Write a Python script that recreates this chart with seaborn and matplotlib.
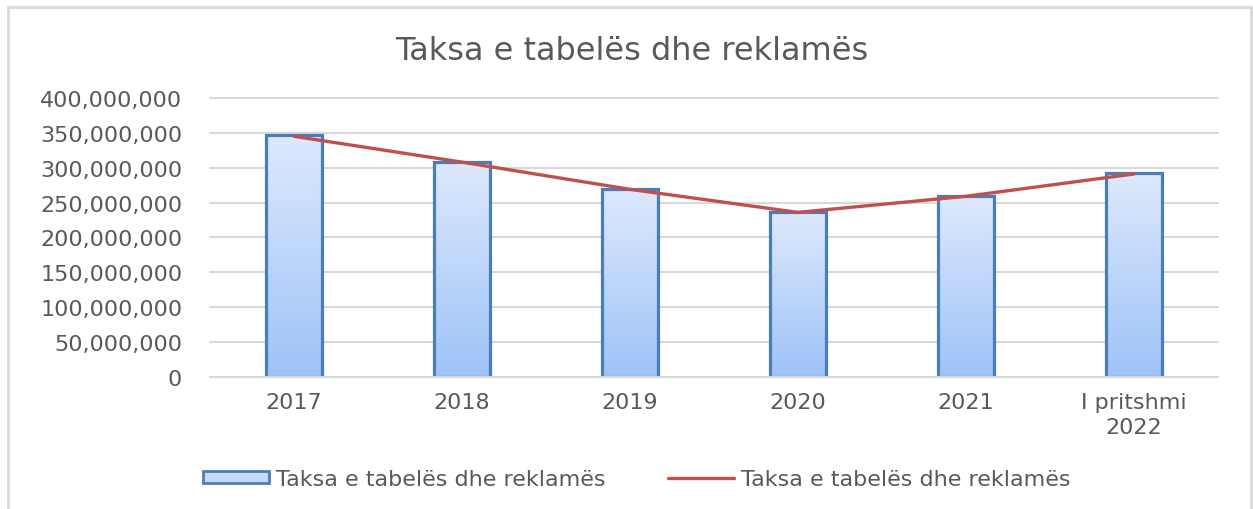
import numpy as np
import seaborn as sns
import matplotlib.pyplot as plt
from matplotlib.patches import Patch
from matplotlib.lines import Line2D
from matplotlib.ticker import FuncFormatter
from matplotlib.colors import LinearSegmentedColormap

# data
years = ["2017", "2018", "2019", "2020", "2021", "I pritshmi\n2022"]
bar_values = [347000000, 308500000, 269000000, 236500000, 260000000, 292000000]
line_values = [345000000, 308000000, 269000000, 236000000, 259000000, 291000000]
series_name = "Taksa e tabelës dhe reklamës"

sns.set_theme(style="white")
plt.rcParams['font.family'] = ['DejaVu Sans']
text_color = "#595959"

fig = plt.figure(figsize=(12.53, 5.10), dpi=100)
ax = fig.add_axes([0.1676, 0.2588, 0.8044, 0.5472])

sns.barplot(x=years, y=bar_values, ax=ax, width=0.33, color="#c5dafa",
            edgecolor="#4a7ebb", linewidth=2.3, zorder=2)

# gradient fill inside the bars, light at the top
grad = LinearSegmentedColormap.from_list("g", ["#9ec3f8", "#dde9fc"])
for p in ax.patches:
    x0, y0 = p.get_x(), p.get_y()
    w, h = p.get_width(), p.get_height()
    im = ax.imshow(np.linspace(0, 1, 256).reshape(-1, 1), cmap=grad,
                   origin="lower", aspect="auto",
                   extent=[x0, x0 + w, y0, y0 + h], zorder=2.1)
    im.set_clip_path(p)
    p.set_facecolor("none")
    p.set_zorder(2.2)

sns.lineplot(x=list(range(len(years))), y=line_values, ax=ax, color="#c0504d",
             linewidth=2.4, zorder=3, sort=False)

ax.set_xlim(-0.5, 5.5)
ax.set_ylim(0, 400000000)
ax.set_yticks(np.arange(0, 400000001, 50000000))
ax.yaxis.set_major_formatter(FuncFormatter(lambda v, _: f"{int(v):,}"))
ax.set_xticks(range(len(years)))
ax.set_xticklabels(years, linespacing=1.3)
ax.grid(axis="y", color="#d9d9d9", linewidth=1.5, zorder=0)
for gl in ax.get_ygridlines():
    gl.set_clip_on(False)
ax.set_axisbelow(True)
for s in ["top", "right", "left"]:
    ax.spines[s].set_visible(False)
ax.spines["bottom"].set_color("#d9d9d9")
ax.spines["bottom"].set_linewidth(1.5)
ax.tick_params(axis="y", length=0, pad=20, labelsize=16, labelcolor=text_color)
ax.tick_params(axis="x", length=0, pad=11, labelsize=16, labelcolor=text_color)
ax.set_xlabel("")
ax.set_ylabel("")

fig.text(0.504, 1 - 51 / 510, series_name, ha="center", va="center",
         fontsize=23, color=text_color)

handles = [Patch(facecolor="#c5dafa", edgecolor="#4a7ebb", linewidth=2),
           Line2D([0], [0], color="#c0504d", linewidth=2.4)]
fig.legend(handles, [series_name, series_name], loc="center", ncol=2,
           bbox_to_anchor=(0.508, 1 - 480 / 510), frameon=False, fontsize=16,
           labelcolor=text_color, handlelength=3.0, handleheight=0.5,
           handletextpad=0.3, columnspacing=2.8)

# outer chart frame
fig.add_artist(Line2D([8 / 1253, 8 / 1253], [0, 1 - 8 / 510], color="#d9d9d9",
                      linewidth=2, transform=fig.transFigure))
fig.add_artist(Line2D([8 / 1253, 1251 / 1253], [1 - 8 / 510, 1 - 8 / 510],
                      color="#d9d9d9", linewidth=2, transform=fig.transFigure))
fig.add_artist(Line2D([1251 / 1253, 1251 / 1253], [0, 1 - 8 / 510], color="#d9d9d9",
                      linewidth=2, transform=fig.transFigure))

plt.savefig("out.png", dpi=100)
